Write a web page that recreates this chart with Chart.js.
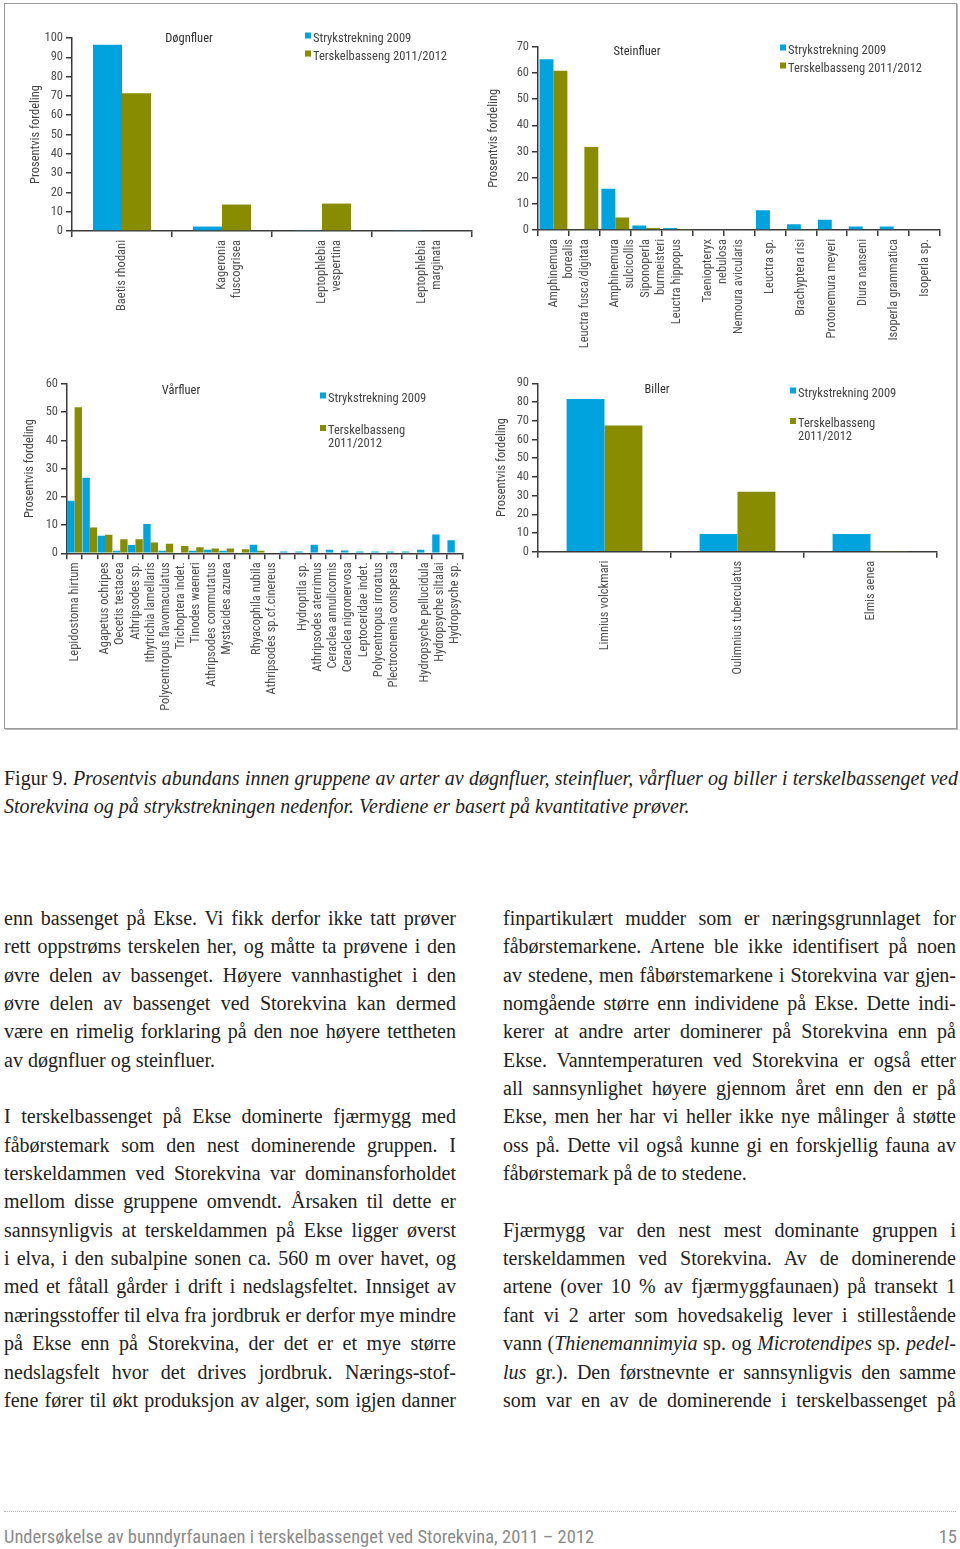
<!DOCTYPE html>
<html lang="no">
<head>
<meta charset="utf-8">
<script src="https://cdn.jsdelivr.net/npm/chart.js@4.4.1/dist/chart.umd.min.js"></script>
<style>
  body { margin: 0; width: 960px; height: 1549px; position: relative; background: #fff; overflow: hidden; }
  .ramme { position: absolute; left: 4px; top: 3px; width: 951px; height: 724px; border: 1px solid #999; box-shadow: 1px 1px 0 #bbb; }
  canvas { position: absolute; }
  .tittel, .forklaring { position: absolute; font-family: "Liberation Sans Narrow", "Roboto Condensed", Roboto, sans-serif; font-size: 12.5px; color: #444; line-height: 13px; white-space: nowrap; }
  .tittel { transform: translate(-50%, -50%); color: #333; }
  .forklaring { transform: translateY(-50%); }
  .forklaring span { display: inline-block; width: 6px; height: 6px; margin-right: 2px; vertical-align: 3px; }
  .tekst { position: absolute; font-family: "Liberation Serif", serif; font-size: 20px; line-height: 28.35px; color: #222; }
  .tekst div { text-align: justify; text-align-last: justify; white-space: nowrap; }
  .tekst div.slutt { text-align: left; text-align-last: left; }
  .fot { position: absolute; top: 1527px; font-family: "Liberation Sans Narrow", "Roboto Condensed", Roboto, sans-serif; font-size: 18.5px; color: #8a8a8a; line-height: 20px; }
  .prikker { position: absolute; left: 4px; top: 1511px; width: 952px; border-top: 1px dotted #bbb; }
</style>
</head>
<body>
<div class="ramme"></div>

<canvas id="dognfluer" width="458" height="320" style="left:24px;top:20px"></canvas>
<canvas id="steinfluer" width="468" height="330" style="left:482px;top:20px"></canvas>
<canvas id="varfluer" width="455" height="350" style="left:18px;top:360px"></canvas>
<canvas id="biller" width="457" height="350" style="left:490px;top:360px"></canvas>

<div class="tittel" style="left:189px;top:37px">Døgnfluer</div>
<div class="tittel" style="left:637px;top:50px">Steinfluer</div>
<div class="tittel" style="left:181px;top:389px">Vårfluer</div>
<div class="tittel" style="left:657px;top:388px">Biller</div>

<div class="forklaring" style="left:305px;top:37px"><span style="background:#00a3dd"></span>Strykstrekning 2009</div>
<div class="forklaring" style="left:305px;top:55px"><span style="background:#878c00"></span>Terskelbasseng 2011/2012</div>
<div class="forklaring" style="left:780px;top:49px"><span style="background:#00a3dd"></span>Strykstrekning 2009</div>
<div class="forklaring" style="left:780px;top:67px"><span style="background:#878c00"></span>Terskelbasseng 2011/2012</div>
<div class="forklaring" style="left:320px;top:397px"><span style="background:#00a3dd"></span>Strykstrekning 2009</div>
<div class="forklaring" style="left:320px;top:436px;transform:translateY(-13px)"><span style="background:#878c00"></span>Terskelbasseng<br><span style="background:none"></span>2011/2012</div>
<div class="forklaring" style="left:790px;top:392px"><span style="background:#00a3dd"></span>Strykstrekning 2009</div>
<div class="forklaring" style="left:790px;top:429px;transform:translateY(-13px)"><span style="background:#878c00"></span>Terskelbasseng<br><span style="background:none"></span>2011/2012</div>

<div class="tekst" style="left:4px;top:764px;width:954px">
  <div>Figur 9. <i>Prosentvis abundans innen gruppene av arter av døgnfluer, steinfluer, vårfluer og biller i terskelbassenget ved</i></div>
  <div class="slutt"><i>Storekvina og på strykstrekningen nedenfor. Verdiene er basert på kvantitative prøver.</i></div>
</div>

<div class="tekst" style="left:4px;top:904px;width:452px">
  <div>enn bassenget på Ekse. Vi fikk derfor ikke tatt prøver</div>
  <div>rett oppstrøms terskelen her, og måtte ta prøvene i den</div>
  <div>øvre delen av bassenget. Høyere vannhastighet i den</div>
  <div>øvre delen av bassenget ved Storekvina kan dermed</div>
  <div>være en rimelig forklaring på den noe høyere tettheten</div>
  <div class="slutt">av døgnfluer og steinfluer.</div>
  <div class="slutt">&nbsp;</div>
  <div>I terskelbassenget på Ekse dominerte fjærmygg med</div>
  <div>fåbørstemark som den nest dominerende gruppen. I</div>
  <div>terskeldammen ved Storekvina var dominansforholdet</div>
  <div>mellom disse gruppene omvendt. Årsaken til dette er</div>
  <div>sannsynligvis at terskeldammen på Ekse ligger øverst</div>
  <div>i elva, i den subalpine sonen ca. 560 m over havet, og</div>
  <div>med et fåtall gårder i drift i nedslagsfeltet. Innsiget av</div>
  <div>næringsstoffer til elva fra jordbruk er derfor mye mindre</div>
  <div>på Ekse enn på Storekvina, der det er et mye større</div>
  <div>nedslagsfelt hvor det drives jordbruk. Nærings-stof-</div>
  <div>fene fører til økt produksjon av alger, som igjen danner</div>
</div>

<div class="tekst" style="left:503px;top:904px;width:453px">
  <div>finpartikulært mudder som er næringsgrunnlaget for</div>
  <div>fåbørstemarkene. Artene ble ikke identifisert på noen</div>
  <div>av stedene, men fåbørstemarkene i Storekvina var gjen-</div>
  <div>nomgående større enn individene på Ekse. Dette indi-</div>
  <div>kerer at andre arter dominerer på Storekvina enn på</div>
  <div>Ekse. Vanntemperaturen ved Storekvina er også etter</div>
  <div>all sannsynlighet høyere gjennom året enn den er på</div>
  <div>Ekse, men her har vi heller ikke nye målinger å støtte</div>
  <div>oss på. Dette vil også kunne gi en forskjellig fauna av</div>
  <div class="slutt">fåbørstemark på de to stedene.</div>
  <div class="slutt">&nbsp;</div>
  <div>Fjærmygg var den nest mest dominante gruppen i</div>
  <div>terskeldammen ved Storekvina. Av de dominerende</div>
  <div>artene (over 10 % av fjærmyggfaunaen) på transekt 1</div>
  <div>fant vi 2 arter som hovedsakelig lever i stillestående</div>
  <div>vann (<i>Thienemannimyia</i> sp. og <i>Microtendipes</i> sp. <i>pedel-</i></div>
  <div><i>lus</i> gr.). Den førstnevnte er sannsynligvis den samme</div>
  <div>som var en av de dominerende i terskelbassenget på</div>
</div>

<div class="prikker"></div>
<div class="fot" style="left:4px">Undersøkelse av bunndyrfaunaen i terskelbassenget ved Storekvina, 2011 – 2012</div>
<div class="fot" style="right:3px">15</div>

<script>
// Serier og arter (prosentvis fordeling innen gruppen)
var serieNavn = ['Strykstrekning 2009', 'Terskelbasseng 2011/2012'];

var dognfluerArter = ['Baetis rhodani', ['Kageronia', 'fuscogrisea'], ['Leptophlebia', 'vespertina'], ['Leptophlebia', 'marginata']];
var dognfluerStryk = [96.5, 2.3, 0.3, 0.3];
var dognfluerTerskel = [71.4, 13.7, 14.2, 0];

var steinfluerArter = [['Amphinemura', 'borealis'], 'Leuctra fusca/digitata', ['Amphinemura', 'sulcicollis'], ['Siponoperla', 'burmeisteri'],
  'Leuctra hippopus', ['Taeniopteryx', 'nebulosa'], 'Nemoura avicularis', 'Leuctra sp.', 'Brachyptera risi',
  'Protonemura meyeri', 'Diura nanseni', 'Isoperla grammatica', 'Isoperla sp.'];
var steinfluerStryk = [65.2, 0, 15.8, 1.7, 0.8, 0, 0, 7.5, 2.2, 3.9, 1.3, 1.3, 0.3];
var steinfluerTerskel = [60.8, 31.7, 4.8, 0.8, 0.4, 0.3, 0.3, 0, 0, 0, 0, 0, 0];

var varfluerArter = ['Lepidostoma hirtum', '', 'Agapetus ochripes', 'Oecetis testacea', 'Athripsodes sp.', 'Ithytrichia lamellaris',
  'Polycentropus flavomaculatus', 'Trichoptera indet.', 'Tinodes waeneri', 'Athripsodes commutatus', 'Mystacides azurea', '',
  'Rhyacophila nubila', 'Athripsodes sp.cf.cinereus', '', 'Hydroptila sp.', 'Athripsodes aterrimus', 'Ceraclea annulicornis',
  'Ceraclea nigronervosa', 'Leptoceridae indet.', 'Polycentropus irroratus', 'Plectrocnemia conspersa', '',
  'Hydropsyche pellucidula', 'Hydropsyche siltalai', 'Hydropsyche sp.'];
var varfluerStryk = [18.6, 26.8, 6.2, 0.9, 2.9, 10.4, 0.9, 0, 0.9, 1.3, 0.9, 0, 3.0, 0, 0.6, 0.6, 3.0, 1.3, 1.0, 0.6, 0.6, 0.6, 0.6, 1.3, 6.7, 4.6];
var varfluerTerskel = [51.8, 9.1, 6.6, 5.0, 5.0, 3.8, 3.4, 2.6, 2.1, 1.7, 1.7, 1.4, 0.9, 0.3, 0.3, 0.3, 0, 0, 0, 0, 0, 0, 0, 0, 0, 0];

var billerArter = ['Limnius volckmari', 'Oulimnius tuberculatus', 'Elmis aenea'];
var billerStryk = [81.6, 9.4, 9.4];
var billerTerskel = [67.4, 32.1, 0.3];

var BLA = '#00a3dd';
var GRONN = '#878c00';
var AKSE = '#3a3a3a';
var SKRIFT = '"Liberation Sans Narrow", "Roboto Condensed", Roboto, sans-serif';

/**
* Lager ett stolpediagram. oppsett styrer plassering av aksene.
**/
function lagDiagram(id, arter, stryk, terskel, maks, oppsett) {
  var font = {family: SKRIFT, size: 12.5};
  return new Chart(document.getElementById(id), {
    type: 'bar',
    data: {
      labels: arter,
      datasets: [{
        label: serieNavn[0],
        data: stryk,
        backgroundColor: BLA,
        barPercentage: 1,
        categoryPercentage: oppsett.kat
      }, {
        label: serieNavn[1],
        data: terskel,
        backgroundColor: GRONN,
        barPercentage: 1,
        categoryPercentage: oppsett.kat
      }]
    },
    options: {
      responsive: false,
      animation: false,
      layout: {padding: {top: oppsett.topp, right: 10, bottom: 0, left: 0}},
      plugins: {legend: {display: false}, tooltip: {enabled: false}},
      scales: {
        x: {
          grid: {offset: true, drawOnChartArea: false, tickLength: 6, color: AKSE, lineWidth: 1.5},
          border: {color: AKSE, width: 1.5},
          ticks: {autoSkip: false, minRotation: 90, maxRotation: 90, padding: 3, color: '#505050', font: font},
          afterFit: function(s) { s.height = oppsett.xHoyde; }
        },
        y: {
          min: 0,
          max: maks,
          grid: {drawOnChartArea: false, tickLength: 6, color: AKSE, lineWidth: 1.5},
          border: {color: AKSE, width: 1.5},
          ticks: {stepSize: 10, padding: 3, color: '#505050', font: font},
          title: {display: true, text: 'Prosentvis fordeling', color: '#444', padding: {top: 4, bottom: 0}, font: font},
          afterFit: function(s) { s.width = oppsett.yBredde; }
        }
      }
    }
  });
}

lagDiagram('dognfluer', dognfluerArter, dognfluerStryk, dognfluerTerskel, 100, {topp: 18, xHoyde: 109, yBredde: 48, kat: 0.58});
lagDiagram('steinfluer', steinfluerArter, steinfluerStryk, steinfluerTerskel, 70, {topp: 26.7, xHoyde: 120, yBredde: 56, kat: 0.9});
lagDiagram('varfluer', varfluerArter, varfluerStryk, varfluerTerskel, 60, {topp: 24, xHoyde: 156.7, yBredde: 49, kat: 0.97});
lagDiagram('biller', billerArter, billerStryk, billerTerskel, 90, {topp: 23.3, xHoyde: 158.3, yBredde: 48, kat: 0.57});
</script>
</body>
</html>
